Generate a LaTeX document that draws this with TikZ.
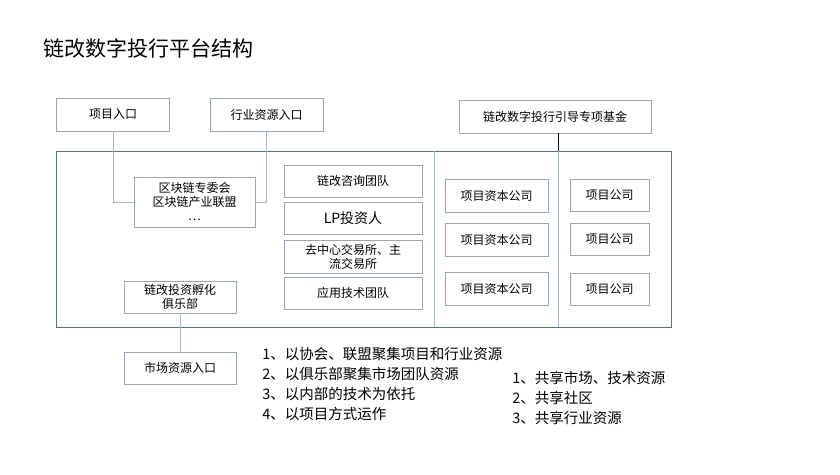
\documentclass[tikz,border=0pt]{standalone}
\usepackage{fontspec}
\setmainfont{Noto Sans CJK SC}
\usetikzlibrary{positioning}
\definecolor{boxline}{HTML}{9AA6B4}
\definecolor{frameline}{HTML}{5C7088}
\definecolor{linkline}{HTML}{A7B8C8}
\begin{document}
\begin{tikzpicture}[x=1pt,y=-1pt,semithick,
    box/.style={draw=boxline,fill=white,inner sep=0pt,font=\fontsize{12}{14}\selectfont,align=center},
    link/.style={draw=linkline}]
    \useasboundingbox (0,0) rectangle (840,474);
    \node[anchor=west,font=\fontsize{21}{24}\selectfont] (title) at (40,48) {链改数字投行平台结构};
    \draw[frameline,thick] (56,151) rectangle (671,327);
    \coordinate (d1top) at (434,151);
    \coordinate (d1bot) at (434,327);
    \coordinate (d2top) at (558,151);
    \coordinate (d2bot) at (558,327);
    \draw[link] (d1top) -- (d1bot);
    \draw[link] (d2top) -- (d2bot);
    \node[box,minimum width=113pt,minimum height=33pt] (proj) at (113,114.5) {项目入口};
    \node[box,minimum width=113pt,minimum height=33pt] (ind) at (266.5,114.5) {行业资源入口};
    \node[box,minimum width=192pt,minimum height=33pt] (fund) at (555,116.5) {链改数字投行引导专项基金};
    \node[box,minimum width=121pt,minimum height=50pt] (chain) at (194.5,202) {区块链专委会\\区块链产业联盟\\…};
    \node[box,minimum width=112pt,minimum height=32pt] (club) at (180,297) {链改投资孵化\\俱乐部};
    \node[box,minimum width=112pt,minimum height=32pt] (market) at (180,368) {市场资源入口};
    \node[box,minimum width=138pt,minimum height=32pt] (consult) at (353,181) {链改咨询团队};
    \node[box,minimum width=138pt,minimum height=32pt,font=\fontsize{14}{16}\selectfont] (lp) at (353,218) {LP投资人};
    \node[box,minimum width=138pt,minimum height=33pt] (exch) at (353,256.5) {去中心交易所、主\\流交易所};
    \node[box,minimum width=138pt,minimum height=32pt] (tech) at (353,293) {应用技术团队};
    \foreach \i/\y in {1/195.5,2/239.5,3/289} {
        \node[box,minimum width=103pt,minimum height=33pt] (cap\i) at (496.5,\y) {项目资本公司};
        \node[box,minimum width=79pt,minimum height=32pt] (co\i) at (609.5,\y) {项目公司};
    }
    \draw[link] (proj.south) |- (chain.west);
    \draw[link] (ind.south) |- (chain.east);
    \draw[link] (club) -- (market);
    \draw[draw=black,thin] (fund.south -| d2top) -- (d2top);
    \node[anchor=north west,align=left,font=\fontsize{14.5}{20}\selectfont,inner sep=0pt] (aims) at (262,347)
        {1、以协会、联盟聚集项目和行业资源\\2、以俱乐部聚集市场团队资源\\3、以内部的技术为依托\\4、以项目方式运作};
    \node[anchor=north west,align=left,font=\fontsize{14.5}{20}\selectfont,inner sep=0pt] (share) at (512,371)
        {1、共享市场、技术资源\\2、共享社区\\3、共享行业资源};
\end{tikzpicture}
\end{document}
